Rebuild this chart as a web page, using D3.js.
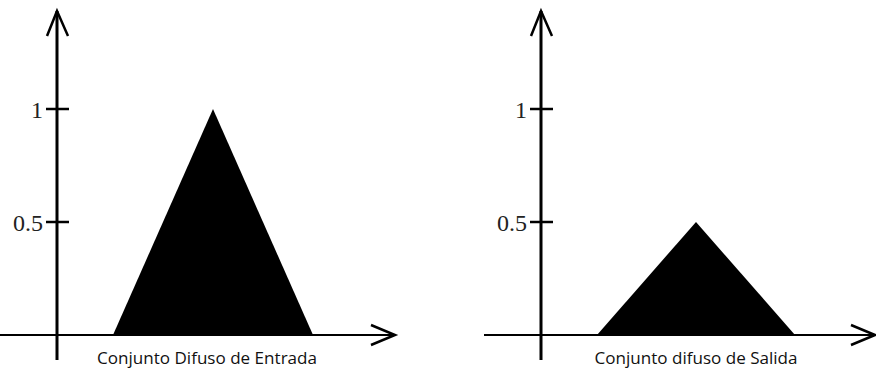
<!DOCTYPE html>
<html>
<head>
<meta charset="utf-8">
<script src="https://cdn.jsdelivr.net/npm/d3@7"></script>
<style>
  html, body { margin: 0; padding: 0; background: #fff; }
  svg { display: block; }
</style>
</head>
<body>
<script>
// Triangular fuzzy sets: input set peaks at membership 1, output set clipped to 0.5
const panelTitles = ["Conjunto Difuso de Entrada", "Conjunto difuso de Salida"];
const inputSet  = [{ x: 1, mu: 0 }, { x: 3, mu: 1 },   { x: 5, mu: 0 }];
const outputSet = [{ x: 1, mu: 0 }, { x: 3, mu: 0.5 }, { x: 5, mu: 0 }];
const yTicks = [0.5, 1];
const yTickLabels = ["0.5", "1"];

const W = 876, H = 369;
const svg = d3.select("body").append("svg").attr("width", W).attr("height", H);

const panels = [
  { set: inputSet,  title: panelTitles[0], axisX: 57,  xStart: 0,   xEnd: 395, setRange: [113, 313], titleX: 207, titleW: 220 },
  { set: outputSet, title: panelTitles[1], axisX: 541, xStart: 484, xEnd: 875, setRange: [597, 795], titleX: 696, titleW: 203 }
];

const y = d3.scaleLinear().domain([0, 1]).range([335, 109]);

panels.forEach(p => {
  const g = svg.append("g");
  const x = d3.scaleLinear().domain([1, 5]).range(p.setRange);

  // filled membership function
  const area = d3.area().x(d => x(d.x)).y0(y(0)).y1(d => y(d.mu));
  g.append("path").datum(p.set).attr("d", area).attr("fill", "#000");

  // horizontal axis with open arrow head
  g.append("line").attr("x1", p.xStart).attr("x2", p.xEnd)
    .attr("y1", y(0)).attr("y2", y(0)).attr("stroke", "#000").attr("stroke-width", 2);
  g.append("path")
    .attr("d", `M${p.xEnd - 24},${y(0) - 10} L${p.xEnd},${y(0)} L${p.xEnd - 24},${y(0) + 10}`)
    .attr("fill", "none").attr("stroke", "#000").attr("stroke-width", 2.5);

  // vertical axis with open arrow head
  g.append("line").attr("x1", p.axisX).attr("x2", p.axisX)
    .attr("y1", 11).attr("y2", 360).attr("stroke", "#000").attr("stroke-width", 3);
  g.append("path")
    .attr("d", `M${p.axisX - 10},${36} L${p.axisX},${11} L${p.axisX + 11},${36}`)
    .attr("fill", "none").attr("stroke", "#000").attr("stroke-width", 2.5);

  // ticks and labels
  yTicks.forEach((t, i) => {
    g.append("line").attr("x1", p.axisX - 11).attr("x2", p.axisX + 12)
      .attr("y1", y(t)).attr("y2", y(t)).attr("stroke", "#000").attr("stroke-width", 2.5);
    g.append("text").attr("x", p.axisX - 14).attr("y", y(t) + 1)
      .attr("text-anchor", "end").attr("dominant-baseline", "central")
      .attr("font-family", "'Liberation Serif', serif").attr("font-size", 24)
      .attr("fill", "#222").text(yTickLabels[i]);
  });

  // caption under the axis
  g.append("text").attr("x", p.titleX).attr("y", 364)
    .attr("text-anchor", "middle")
    .attr("font-family", "'Open Sans', sans-serif").attr("font-size", 17)
    .attr("textLength", p.titleW).attr("lengthAdjust", "spacingAndGlyphs")
    .attr("fill", "#111").text(p.title);
});
</script>
</body>
</html>
